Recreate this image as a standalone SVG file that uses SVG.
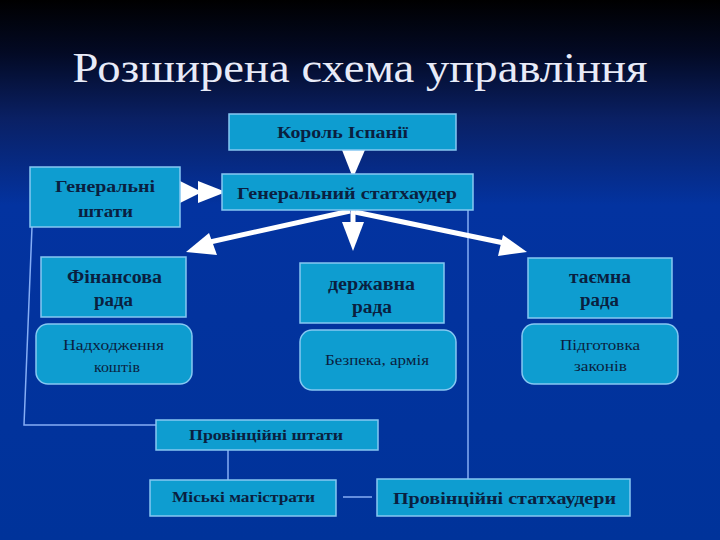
<svg xmlns="http://www.w3.org/2000/svg" width="720" height="540" viewBox="0 0 720 540">
<defs>
<linearGradient id="bg" x1="0" y1="0" x2="0" y2="1">
<stop offset="0" stop-color="#000000"/>
<stop offset="0.1" stop-color="#030a25"/>
<stop offset="0.22" stop-color="#0a2064"/>
<stop offset="0.38" stop-color="#0333a0"/>
<stop offset="1" stop-color="#00339a"/>
</linearGradient>
<style>
.box{fill:#0e9dd0;stroke:#86c8f2;stroke-width:1.5}
.t{font-family:"Liberation Serif","DejaVu Serif",serif;fill:#0a1f40;text-anchor:middle}
.b{font-weight:bold}
.thin{stroke:#86aef5;stroke-width:1.5;fill:none}
.thick{stroke:#ffffff;stroke-width:5;fill:none}
.head{fill:#ffffff}
</style>
</defs>
<rect x="0" y="0" width="720" height="540" fill="url(#bg)"/>
<text x="360" y="82" font-family="'Liberation Serif','DejaVu Serif',serif" font-size="42" fill="#e8ebf8" text-anchor="middle" textLength="575" lengthAdjust="spacingAndGlyphs">Розширена схема управління</text>

<g id="connectors">
<polyline class="thin" points="32,227 24,425 156,425"/>
<line class="thin" x1="468" y1="210" x2="468" y2="479"/>
<line class="thin" x1="228" y1="450" x2="228" y2="480"/>
<line class="thin" x1="343" y1="497" x2="372" y2="497"/>
<polygon class="head" points="342,150 365,150 353,178"/>
<polygon class="head" points="180,181 180,203 202,192"/>
<polygon class="head" points="198,181 198,203 226,192"/>
<line class="thick" x1="353" y1="210" x2="353" y2="224"/>
<polygon class="head" points="342,222 364,222 353,251"/>
<line class="thick" x1="350" y1="211" x2="210" y2="242"/>
<polygon class="head" points="186,252 209,233 217,255"/>
<line class="thick" x1="355" y1="212" x2="504" y2="243"/>
<polygon class="head" points="527,252 503,235 498,256"/>
</g>

<g id="korol"><rect class="box" x="229" y="114" width="227" height="36"/><text class="t b" x="342.5" y="138" font-size="16" textLength="131" lengthAdjust="spacingAndGlyphs">Король Іспанії</text></g>
<g id="gen-statkhauder"><rect class="box" x="222" y="174" width="251" height="36"/><text class="t b" x="347" y="199" font-size="17" textLength="220" lengthAdjust="spacingAndGlyphs">Генеральний статхаудер</text></g>
<g id="gen-shtaty"><rect class="box" x="30" y="167" width="150" height="60"/><text class="t b" x="105" y="192" font-size="17" textLength="100" lengthAdjust="spacingAndGlyphs">Генеральні</text><text class="t b" x="105.5" y="217" font-size="17" textLength="55" lengthAdjust="spacingAndGlyphs">штати</text></g>
<g id="finansova"><rect class="box" x="41" y="257" width="145" height="60"/><text class="t b" x="114.5" y="283" font-size="18" textLength="95" lengthAdjust="spacingAndGlyphs">Фінансова</text><text class="t b" x="113.5" y="306" font-size="18" textLength="39" lengthAdjust="spacingAndGlyphs">рада</text></g>
<g id="derzhavna"><rect class="box" x="300" y="263" width="144" height="60"/><text class="t b" x="371.5" y="290" font-size="18" textLength="87" lengthAdjust="spacingAndGlyphs">державна</text><text class="t b" x="372" y="313" font-size="18" textLength="40" lengthAdjust="spacingAndGlyphs">рада</text></g>
<g id="taemna"><rect class="box" x="528" y="258" width="144" height="60"/><text class="t b" x="600" y="283" font-size="18" textLength="62" lengthAdjust="spacingAndGlyphs">таємна</text><text class="t b" x="599.5" y="306" font-size="18" textLength="39" lengthAdjust="spacingAndGlyphs">рада</text></g>
<g id="nadkhodzhennia"><rect class="box" x="36" y="324" width="156" height="60" rx="12"/><text class="t" x="113.5" y="350" font-size="15" textLength="101" lengthAdjust="spacingAndGlyphs">Надходження</text><text class="t" x="117" y="372" font-size="15" textLength="46" lengthAdjust="spacingAndGlyphs">коштів</text></g>
<g id="bezpeka"><rect class="box" x="300" y="330" width="156" height="60" rx="12"/><text class="t" x="377" y="365" font-size="15" textLength="104" lengthAdjust="spacingAndGlyphs">Безпека, армія</text></g>
<g id="pidhotovka"><rect class="box" x="522" y="324" width="156" height="60" rx="12"/><text class="t" x="600" y="350" font-size="15" textLength="80" lengthAdjust="spacingAndGlyphs">Підготовка</text><text class="t" x="600.5" y="371" font-size="15" textLength="53" lengthAdjust="spacingAndGlyphs">законів</text></g>
<g id="prov-shtaty"><rect class="box" x="156" y="420" width="222" height="30"/><text class="t b" x="266" y="440" font-size="14" textLength="154" lengthAdjust="spacingAndGlyphs">Провінційні штати</text></g>
<g id="miski"><rect class="box" x="150" y="480" width="186" height="36"/><text class="t b" x="243.5" y="502" font-size="14" textLength="143" lengthAdjust="spacingAndGlyphs">Міські магістрати</text></g>
<g id="prov-statkhaudery"><rect class="box" x="377" y="479" width="253" height="37"/><text class="t b" x="504.5" y="504" font-size="17" textLength="223" lengthAdjust="spacingAndGlyphs">Провінційні статхаудери</text></g>
</svg>
